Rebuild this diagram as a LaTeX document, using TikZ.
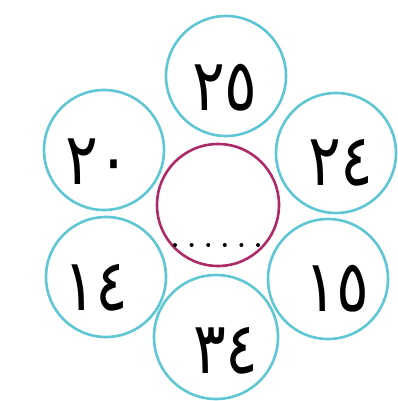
\documentclass[tikz,border=0pt]{standalone}
\usepackage{fontspec}
\newfontfamily\arabicfont[Script=Arabic,FakeStretch=0.85]{DejaVu Sans}
\definecolor{petalcyan}{RGB}{95,198,212}
\definecolor{hubpink}{RGB}{172,42,104}
\begin{document}
\begin{tikzpicture}[
    x=1pt, y=-1pt,
    petal/.style={circle, draw=petalcyan, line width=2.6pt, minimum size=120pt, inner sep=0pt},
    hub/.style={circle, draw=hubpink, line width=2.6pt, minimum size=122pt, inner sep=0pt},
    num/.style={font=\arabicfont\fontsize{72}{72}\selectfont, inner sep=0pt},
    dot/.style={circle, fill=black, inner sep=0pt, minimum size=4pt}]
  \useasboundingbox (0,0) rectangle (397,401);
  % centre circle
  \node[hub] (hub) at (218,205) {};
  % outer circles
  \node[petal] (top) at (226,76) {};
  \node[petal] (upleft) at (104,150) {};
  \node[petal] (upright) at (336,153) {};
  \node[petal] (lowleft) at (106,277) {};
  \node[petal] (lowright) at (328,279) {};
  \node[petal, minimum size=124pt] (bottom) at (216,337) {};
  % numbers
  \node[num] (ntop) at (225,88) {٢٥};
  \node[num] (nupleft) at (98,162) {٢٠};
  \node[num] (nupright) at (341,163) {٢٤};
  \node[num] (nlowleft) at (96,288) {١٤};
  \node[num] (nlowright) at (337,289) {١٥};
  \node[num] (nbottom) at (226,351) {٣٤};
  % dotted answer line
  \foreach \i in {0,...,5}
    \node[dot] (d\i) at (175+16.6*\i,245) {};
\end{tikzpicture}
\end{document}
